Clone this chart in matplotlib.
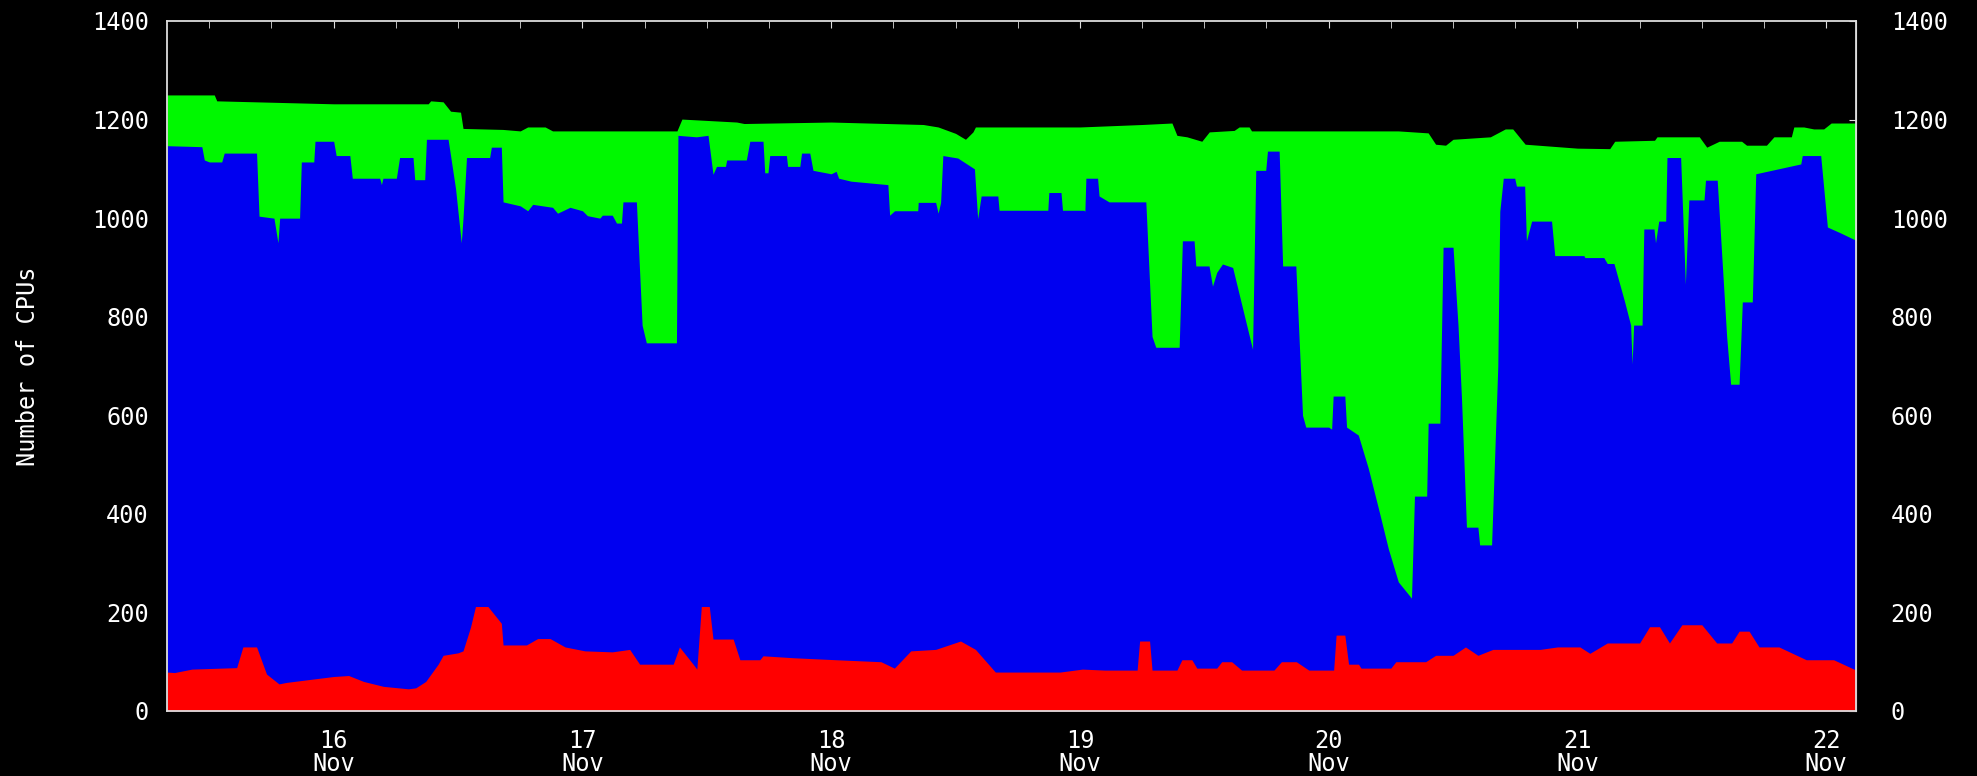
import matplotlib
matplotlib.use("Agg")
import matplotlib.pyplot as plt
import numpy as np

# time in days of November, top edge of each stacked layer (Number of CPUs)
total_t = [15.33, 15.52, 15.53, 16.00, 16.38, 16.39, 16.44, 16.47, 16.51, 16.52, 16.68, 16.75,
           16.78, 16.85, 16.88, 17.16, 17.38, 17.40, 17.62, 17.65, 18.00, 18.37, 18.43, 18.50,
           18.54, 18.57, 18.58, 19.00, 19.25, 19.37, 19.39, 19.43, 19.49, 19.52, 19.62, 19.64,
           19.68, 19.69, 20.28, 20.40, 20.43, 20.47, 20.50, 20.65, 20.71, 20.74, 20.79, 21.00,
           21.13, 21.15, 21.31, 21.32, 21.49, 21.52, 21.57, 21.66, 21.68, 21.76, 21.79, 21.86,
           21.87, 21.91, 21.95, 21.99, 22.02, 22.12]
total_v = [1250, 1250, 1238, 1232, 1232, 1238, 1236, 1217, 1215, 1182, 1180, 1177,
           1185, 1185, 1177, 1177, 1177, 1201, 1195, 1192, 1195, 1190, 1185, 1172,
           1160, 1175, 1185, 1185, 1190, 1193, 1168, 1165, 1156, 1175, 1178, 1185,
           1185, 1177, 1177, 1173, 1150, 1148, 1160, 1165, 1181, 1181, 1150, 1142,
           1141, 1156, 1158, 1165, 1165, 1144, 1156, 1156, 1148, 1148, 1165, 1165,
           1185, 1185, 1181, 1181, 1193, 1193]

blue_t = [15.33, 15.47, 15.48, 15.50, 15.55, 15.56, 15.69, 15.70, 15.76, 15.776, 15.783, 15.863,
          15.87, 15.92, 15.925, 16.00, 16.01, 16.065, 16.075, 16.185, 16.192, 16.198, 16.252, 16.265,
          16.319, 16.326, 16.366, 16.373, 16.46, 16.49, 16.513, 16.52, 16.534, 16.627, 16.634, 16.674,
          16.681, 16.75, 16.78, 16.80, 16.88, 16.90, 16.95, 17.00, 17.02, 17.07, 17.08, 17.12,
          17.137, 17.157, 17.163, 17.217, 17.24, 17.257, 17.378, 17.384, 17.458, 17.505, 17.525, 17.539,
          17.575, 17.58, 17.659, 17.673, 17.726, 17.733, 17.746, 17.753, 17.82, 17.825, 17.874, 17.881,
          17.914, 17.927, 18.00, 18.02, 18.03, 18.08, 18.228, 18.235, 18.255, 18.348, 18.35, 18.42,
          18.43, 18.44, 18.449, 18.509, 18.576, 18.589, 18.603, 18.67, 18.675, 18.871, 18.875, 18.924,
          18.93, 19.016, 19.02, 19.024, 19.071, 19.077, 19.117, 19.265, 19.29, 19.305, 19.399, 19.412,
          19.459, 19.466, 19.519, 19.533, 19.55, 19.573, 19.614, 19.694, 19.707, 19.747, 19.754, 19.801,
          19.815, 19.868, 19.895, 19.908, 20.00, 20.012, 20.018, 20.065, 20.072, 20.119, 20.159, 20.20,
          20.24, 20.28, 20.333, 20.345, 20.394, 20.40, 20.447, 20.46, 20.50, 20.52, 20.534, 20.554,
          20.60, 20.607, 20.655, 20.68, 20.688, 20.702, 20.748, 20.755, 20.788, 20.795, 20.816, 20.896,
          20.909, 21.014, 21.026, 21.03, 21.106, 21.12, 21.147, 21.19, 21.214, 21.22, 21.226, 21.26,
          21.267, 21.308, 21.314, 21.327, 21.355, 21.36, 21.415, 21.434, 21.448, 21.509, 21.515, 21.562,
          21.60, 21.616, 21.65, 21.663, 21.703, 21.717, 21.898, 21.904, 21.978, 22.005, 22.058, 22.12]
blue_v = [1147, 1145, 1118, 1114, 1114, 1132, 1132, 1004, 1000, 950, 1000, 1000,
          1114, 1114, 1156, 1156, 1127, 1127, 1081, 1081, 1068, 1081, 1081, 1123,
          1123, 1078, 1078, 1160, 1160, 1060, 950, 1000, 1123, 1123, 1144, 1144,
          1033, 1025, 1015, 1028, 1022, 1010, 1022, 1015, 1005, 1000, 1006, 1006,
          990, 990, 1033, 1033, 783, 747, 747, 1168, 1165, 1168, 1089, 1105,
          1105, 1118, 1118, 1156, 1156, 1092, 1092, 1127, 1127, 1105, 1105, 1132,
          1132, 1097, 1090, 1095, 1081, 1075, 1068, 1006, 1015, 1015, 1032, 1032,
          1010, 1032, 1127, 1122, 1100, 999, 1045, 1045, 1016, 1016, 1052, 1052,
          1016, 1016, 1014, 1081, 1081, 1045, 1033, 1033, 760, 738, 738, 954,
          954, 903, 903, 862, 890, 907, 900, 734, 1097, 1097, 1136, 1136,
          903, 903, 600, 576, 576, 572, 639, 639, 576, 560, 493, 411,
          329, 262, 229, 436, 436, 584, 584, 941, 941, 783, 635, 373,
          373, 337, 337, 700, 1014, 1081, 1081, 1065, 1065, 954, 994, 994,
          924, 924, 924, 920, 920, 908, 908, 830, 783, 704, 783, 783,
          978, 978, 950, 994, 994, 1123, 1123, 866, 1037, 1037, 1077, 1077,
          760, 663, 663, 830, 830, 1090, 1110, 1127, 1127, 982, 970, 955]

red_t = [15.33, 15.36, 15.43, 15.61, 15.635, 15.69, 15.73, 15.78, 15.81, 15.92, 16.00, 16.06,
         16.12, 16.20, 16.30, 16.33, 16.37, 16.42, 16.44, 16.50, 16.52, 16.55, 16.57, 16.62,
         16.655, 16.674, 16.681, 16.775, 16.82, 16.87, 16.93, 17.01, 17.12, 17.19, 17.23, 17.365,
         17.39, 17.445, 17.46, 17.478, 17.51, 17.525, 17.606, 17.633, 17.713, 17.726, 17.85, 18.02,
         18.20, 18.254, 18.32, 18.42, 18.52, 18.58, 18.66, 18.92, 19.01, 19.10, 19.23, 19.24,
         19.28, 19.29, 19.39, 19.41, 19.45, 19.47, 19.55, 19.57, 19.61, 19.65, 19.78, 19.81,
         19.87, 19.92, 20.02, 20.03, 20.065, 20.08, 20.12, 20.13, 20.25, 20.27, 20.39, 20.43,
         20.50, 20.55, 20.60, 20.66, 20.85, 20.92, 21.01, 21.05, 21.12, 21.25, 21.29, 21.33,
         21.37, 21.42, 21.50, 21.56, 21.62, 21.65, 21.69, 21.73, 21.81, 21.92, 22.03, 22.12]
red_v = [79, 78, 85, 88, 130, 130, 75, 55, 58, 65, 70, 72,
         60, 50, 45, 47, 60, 95, 113, 118, 122, 170, 212, 212,
         190, 178, 134, 134, 147, 147, 130, 122, 120, 125, 95, 95,
         130, 95, 85, 212, 212, 146, 146, 104, 104, 112, 108, 104,
         100, 87, 122, 125, 142, 125, 79, 79, 85, 83, 83, 142,
         142, 83, 83, 104, 104, 87, 87, 100, 100, 83, 83, 100,
         100, 83, 83, 154, 154, 95, 95, 87, 87, 100, 100, 113,
         113, 130, 113, 125, 125, 130, 130, 117, 138, 138, 171, 171,
         138, 175, 175, 138, 138, 162, 162, 130, 130, 104, 104, 83]

days = [16, 17, 18, 19, 20, 21, 22]
day_labels = [f"{d}\nNov" for d in days]
y_ticks = [0, 200, 400, 600, 800, 1000, 1200, 1400]

fig = plt.figure(figsize=(19.77, 7.76), dpi=100, facecolor="black")
ax = fig.add_axes([167 / 1977, 65 / 776, (1856 - 167) / 1977, (711 - 21) / 776])
ax.set_facecolor("black")

ax.fill_between(total_t, 0, total_v, color="#00f800", linewidth=0)
ax.fill_between(blue_t, 0, blue_v, color="#0000f0", linewidth=0)
ax.fill_between(red_t, 0, red_v, color="#ff0000", linewidth=0)

ax.set_xlim(15.33, 22.12)
ax.set_ylim(0, 1400)

font = {"family": "DejaVu Sans Mono", "size": 17, "color": "white"}
ax.set_xticks(days)
ax.set_xticklabels(day_labels, fontdict=font, linespacing=0.95)
ax.set_xticks(np.arange(15.5, 22.1, 0.25), minor=True)
ax.set_yticks(y_ticks)
ax.set_yticklabels([str(v) for v in y_ticks], fontdict=font)

sec = ax.secondary_yaxis("right")
sec.set_yticks(y_ticks)
sec.set_yticklabels([str(v) for v in y_ticks], fontdict=font)
sec.tick_params(axis="y", direction="in", length=5, color="#dddddd", pad=25)
sec.spines["right"].set_color("#dddddd")

ax.tick_params(axis="x", which="both", direction="in", top=True, bottom=False,
               length=5, color="#dddddd", pad=13)
ax.tick_params(axis="y", direction="in", length=0, pad=13)

for s in ax.spines.values():
    s.set_color("#dddddd")
    s.set_linewidth(1.3)

ax.set_ylabel("Number of CPUs", fontdict={"family": "DejaVu Sans Mono", "size": 17,
                                          "color": "white"})
ax.yaxis.set_label_coords(-0.075, 0.5)

fig.savefig("out.png", dpi=100, facecolor="black")
